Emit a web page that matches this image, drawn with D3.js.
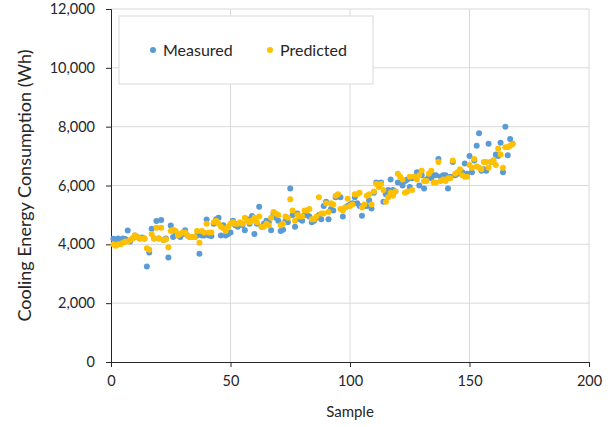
<!DOCTYPE html>
<html>
<head>
<meta charset="utf-8">
<script src="https://cdn.jsdelivr.net/npm/d3@7"></script>
<style>
  body { margin: 0; background: #fff; }
  svg { font-family: Lato, "Open Sans", sans-serif; }
</style>
</head>
<body>
<div id="chart"></div>
<script>
// Cooling energy per sample
var measured = [
  4190, 4150, 4200, 4150, 4200, 4180, 4470, 4100, 4200, 4300,
  4250, 4200, 4230, 4200, 3250, 3720, 4530, 4200, 4790, 4200,
  4830, 4150, 4200, 3550, 4640, 4250, 4400, 4300, 4250, 4350,
  4480, 4300, 4250, 4250, 4250, 4300, 3680, 4300, 4300, 4840,
  4300, 4280, 4700, 4850, 4900, 4300, 4650, 4300, 4350, 4400,
  4800, 4650, 4600, 4700, 4650, 4480, 4850, 4700, 4960, 4350,
  4700, 5280, 4600, 4700, 4800, 4750, 4480, 5050, 4900, 4800,
  4450, 4500, 4800, 4750, 5900, 5000, 4600, 5050, 4850, 4800,
  5000, 5000, 4950, 4750, 4800, 4900, 5000, 4850, 5300, 5450,
  4850, 5200, 5150, 5600, 5650, 5600, 4950, 5250, 5300, 5350,
  5400, 5600, 5400, 5300, 4970, 5300, 5300, 5500, 5220, 5750,
  6100, 6050, 6100, 5450, 5700, 5850, 6200, 5850, 5800, 6100,
  6100, 6000, 6150, 6200, 5950, 6250, 6300, 6450, 6000, 6350,
  5900, 6200, 6300, 6250, 6350, 6350, 6900, 6300, 6350, 6350,
  5900, 6300, 6800, 6350, 6400, 6500, 6450, 6750, 6400, 7000,
  6450, 6850, 7350, 7780, 6500, 6550, 6500, 7420, 6800, 6850,
  7050, 7000, 7450, 6450, 8000, 7030, 7580, 7420
];

var predicted = [
  4000, 3950, 4000, 4000, 4050, 4100, 4100, 4150, 4200, 4300,
  4250, 4200, 4200, 4200, 3870, 3820, 4350, 4200, 4560, 4200,
  4560, 4150, 4170, 3900, 4450, 4500, 4450, 4300, 4350, 4400,
  4400, 4300, 4250, 4250, 4250, 4450, 4050, 4450, 4400, 4700,
  4400, 4400, 4750, 4800, 4700, 4600, 4550, 4450, 4600, 4700,
  4750, 4700, 4700, 4750, 4700, 4900, 4800, 4750, 4800, 4900,
  4750, 4950, 4600, 4600, 4700, 4650, 4900, 5100, 5050, 5000,
  4650, 4700, 4950, 4900, 5530, 5150, 4800, 5000, 4950, 4950,
  5150, 5150, 5200, 4850, 4850, 4950, 5600, 5050, 5050, 5400,
  5100, 5400, 5350, 5650, 5700, 5200, 5150, 5250, 5550, 5300,
  5350, 5700, 5700, 5750, 5250, 5350, 5650, 5700, 5350, 5800,
  6050, 5950, 6050, 5850, 5450, 5600, 5750, 5650, 5800, 6400,
  6300, 6200, 5750, 5800, 6300, 5850, 6300, 6200, 6350, 6500,
  6150, 6150, 6400, 6500, 6100, 6100, 6800, 6150, 6200, 6150,
  6250, 6250, 6850, 6400, 6450, 6550, 6350, 6300, 6300, 6700,
  6600, 6900, 6650, 6600, 6550, 6800, 6800, 6600, 6800, 6850,
  6700, 7250, 7050, 6600, 7300, 7300, 7350, 7400
];

var xTicks = [0, 50, 100, 150, 200];
var yTicks = [0, 2000, 4000, 6000, 8000, 10000, 12000];
var seriesNames = ["Measured", "Predicted"];
var seriesColors = ["#5B9BD5", "#FFC000"];

var width = 611, height = 427;
var margin = {top: 9, right: 22, bottom: 65, left: 111};

var svg = d3.select("#chart").append("svg")
  .attr("width", width)
  .attr("height", height);

var x = d3.scaleLinear().domain([0, 200]).range([margin.left, width - margin.right]);
var y = d3.scaleLinear().domain([0, 12000]).range([height - margin.bottom, margin.top]);

// gridlines
svg.append("g").selectAll("line.h")
  .data(yTicks.slice(1))
  .enter().append("line")
    .attr("x1", x(0)).attr("x2", x(200))
    .attr("y1", function(d) { return y(d); })
    .attr("y2", function(d) { return y(d); })
    .style("stroke", "#d9d9d9").style("stroke-width", 1);

svg.append("g").selectAll("line.v")
  .data(xTicks.slice(1))
  .enter().append("line")
    .attr("y1", y(0)).attr("y2", y(12000))
    .attr("x1", function(d) { return x(d); })
    .attr("x2", function(d) { return x(d); })
    .style("stroke", "#d9d9d9").style("stroke-width", 1);

// axes
var fmt = d3.format(",");
var yAxis = svg.append("g")
  .attr("transform", "translate(" + x(0) + ",0)")
  .call(d3.axisLeft(y).tickValues(yTicks).tickFormat(fmt).tickSize(5).tickPadding(11));
var xAxis = svg.append("g")
  .attr("transform", "translate(0," + y(0) + ")")
  .call(d3.axisBottom(x).tickValues(xTicks).tickSize(5).tickPadding(9));

[yAxis, xAxis].forEach(function(a) {
  a.select(".domain").style("stroke", "#262626");
  a.selectAll(".tick line").style("stroke", "#262626");
  a.selectAll("text")
    .style("font-size", "14.5px")
    .style("fill", "#262626")
    .style("font-family", "Lato, sans-serif");
});

// axis titles
svg.append("text")
  .attr("transform", "translate(31," + ((y(0) + y(12000)) / 2) + ") rotate(-90)")
  .attr("text-anchor", "middle")
  .style("font-size", "18px")
  .style("fill", "#262626")
  .text("Cooling Energy Consumption (Wh)");

svg.append("text")
  .attr("x", x(100))
  .attr("y", 417)
  .attr("text-anchor", "middle")
  .style("font-size", "15px")
  .style("fill", "#262626")
  .text("Sample");

// points
[measured, predicted].forEach(function(series, si) {
  svg.append("g").selectAll("circle")
    .data(series)
    .enter().append("circle")
      .attr("cx", function(d, i) { return x(i + 1); })
      .attr("cy", function(d) { return y(d); })
      .attr("r", 3)
      .style("fill", seriesColors[si]);
});

// legend
var legend = svg.append("g");
legend.append("rect")
  .attr("x", 119).attr("y", 16)
  .attr("width", 254).attr("height", 68)
  .style("fill", "#fff")
  .style("stroke", "#d9d9d9");

var legendX = [153, 270];
seriesNames.forEach(function(name, i) {
  legend.append("circle")
    .attr("cx", legendX[i]).attr("cy", 50)
    .attr("r", 3)
    .style("fill", seriesColors[i]);
  legend.append("text")
    .attr("x", legendX[i] + 10).attr("y", 55.5)
    .style("font-size", "16px")
    .style("fill", "#262626")
    .text(name);
});
</script>
</body>
</html>
